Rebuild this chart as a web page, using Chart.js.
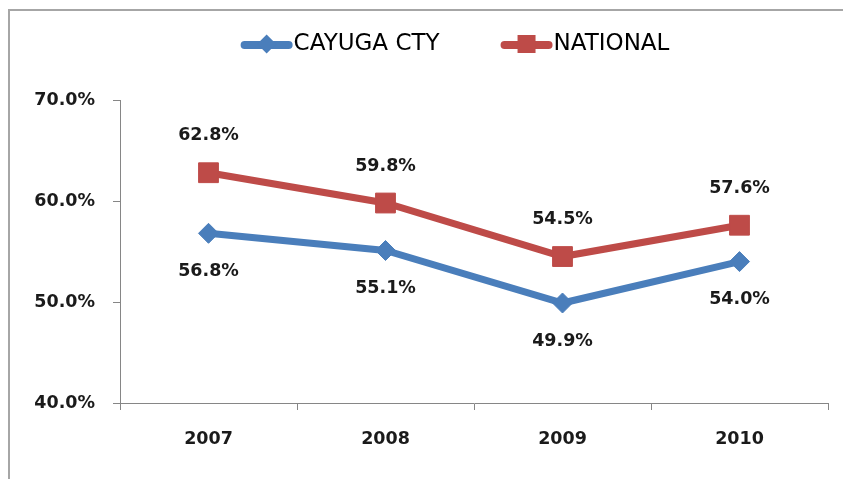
<!DOCTYPE html>
<html><head><meta charset="utf-8">
<script src="https://cdn.jsdelivr.net/npm/chart.js@4.4.0/dist/chart.umd.min.js"></script>
<style>
html,body{margin:0;padding:0;background:#fff;overflow:hidden;width:843px;height:479px;}
#frame{position:absolute;left:8px;top:9px;width:900px;height:520px;border-left:2px solid #a6a6a6;border-top:2px solid #a6a6a6;}
canvas{position:absolute;left:0;top:0;}
</style></head><body>
<div id="frame"></div>
<canvas id="c" width="843" height="479"></canvas>
<script>
const years = ['2007', '2008', '2009', '2010'];
const cayuga = [56.8, 55.1, 49.9, 54.0];
const national = [62.8, 59.8, 54.5, 57.6];
const seriesNames = ['CAYUGA CTY', 'NATIONAL'];
const yMin = 40, yMax = 70, yStep = 10;

const BLUE = '#4A7EBB';
const RED = '#BE4B48';
const AXIS = '#868686';
const TXT = '#1a1a1a';
const TICK_FONT = {family: 'DejaVu Sans', weight: 'bold', size: 17.5};

const labelOffsets = [38, -37]; // cayuga below, national above

const dataLabelPlugin = {
  id: 'dataLabels',
  afterDatasetsDraw(chart) {
    const ctx = chart.ctx;
    ctx.save();
    ctx.font = 'bold 17.5px "DejaVu Sans"';
    ctx.fillStyle = TXT;
    ctx.textAlign = 'center';
    ctx.textBaseline = 'middle';
    chart.data.datasets.forEach((ds, i) => {
      const meta = chart.getDatasetMeta(i);
      meta.data.forEach((el, j) => {
        ctx.fillText(ds.data[j].toFixed(1) + '%', el.x, el.y + labelOffsets[i]);
      });
    });
    ctx.restore();
  }
};

function marker(ctx, style, x, y, r) {
  ctx.beginPath();
  if (style === 'rect') {
    ctx.rect(x - r, y - r, 2 * r, 2 * r);
  } else {
    ctx.moveTo(x, y - r); ctx.lineTo(x + r, y); ctx.lineTo(x, y + r); ctx.lineTo(x - r, y); ctx.closePath();
  }
  ctx.fill();
}

const legendPlugin = {
  id: 'lineLegend',
  afterDraw(chart) {
    const ctx = chart.ctx;
    ctx.save();
    ctx.font = '23px "DejaVu Sans"';
    const lineLen = 52, gapText = 1, gapItems = 61, cy = 44, centerX = 455;
    const items = chart.data.datasets.map(ds => ({
      ds, w: lineLen + gapText + ctx.measureText(ds.label).width
    }));
    const total = items.reduce((a, it) => a + it.w, 0) + gapItems * (items.length - 1);
    let x = centerX - total / 2;
    items.forEach(it => {
      const ds = it.ds;
      ctx.strokeStyle = ds.borderColor;
      ctx.lineWidth = 8;
      ctx.lineCap = 'round';
      ctx.beginPath();
      ctx.moveTo(x + 4, cy + 1); ctx.lineTo(x + lineLen - 4, cy + 1);
      ctx.stroke();
      ctx.fillStyle = ds.borderColor;
      marker(ctx, ds.pointStyle, x + lineLen / 2, cy, ds.pointStyle === 'rect' ? 9 : 9.5);
      ctx.fillStyle = '#000';
      ctx.textBaseline = 'middle';
      ctx.textAlign = 'left';
      ctx.fillText(ds.label, x + lineLen + gapText, cy);
      x += it.w + gapItems;
    });
    ctx.restore();
  }
};

new Chart(document.getElementById('c'), {
  type: 'line',
  data: {
    labels: years,
    datasets: [
      {
        label: seriesNames[0], data: cayuga,
        borderColor: BLUE, backgroundColor: BLUE,
        borderWidth: 7, pointStyle: 'rectRot', pointRadius: 10,
        pointBackgroundColor: BLUE, pointBorderColor: BLUE, pointBorderWidth: 1,
        tension: 0, clip: false
      },
      {
        label: seriesNames[1], data: national,
        borderColor: RED, backgroundColor: RED,
        borderWidth: 7, pointStyle: 'rect', pointRadius: 14,
        pointBackgroundColor: RED, pointBorderColor: RED, pointBorderWidth: 1,
        tension: 0, clip: false
      }
    ]
  },
  options: {
    responsive: false,
    animation: false,
    devicePixelRatio: 1,
    layout: {padding: {top: 100, right: 11, bottom: 0, left: 0}},
    plugins: {legend: {display: false}, tooltip: {enabled: false}},
    scales: {
      x: {
        type: 'category',
        offset: true,
        grid: {display: true, drawOnChartArea: false, offset: true, tickLength: 7, color: AXIS},
        border: {display: true, color: AXIS, width: 1},
        ticks: {font: TICK_FONT, color: TXT, padding: 19, maxRotation: 0},
        afterFit(s) { s.height = 76; }
      },
      y: {
        min: yMin, max: yMax,
        grid: {display: true, drawOnChartArea: false, tickLength: 7, color: AXIS},
        border: {display: true, color: AXIS, width: 1},
        ticks: {stepSize: yStep, font: TICK_FONT, color: TXT, padding: 18,
          callback: v => v.toFixed(1) + '%'},
        afterFit(s) { s.width = 120; }
      }
    }
  },
  plugins: [dataLabelPlugin, legendPlugin]
});
</script>
</body></html>
